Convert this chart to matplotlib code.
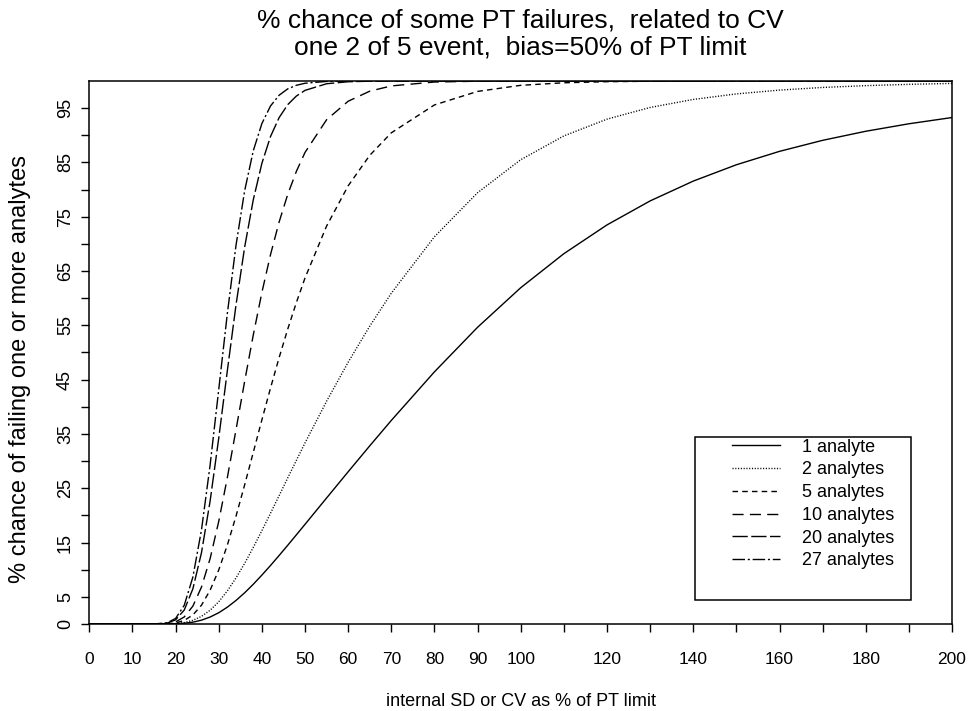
import matplotlib
matplotlib.use("Agg")
import matplotlib.pyplot as plt
from matplotlib.patches import Rectangle

plt.rcParams["font.family"] = ["Liberation Sans", "DejaVu Sans"]

# internal SD / CV as % of PT limit
cv = [0, 10, 15, 18, 20, 22, 24, 26, 28, 30, 32, 34, 36, 38, 40, 42, 44, 46, 48, 50,
      55, 60, 65, 70, 80, 90, 100, 110, 120, 130, 140, 150, 160, 170, 180, 190, 200]

# % chance of failing
fail_1 = [0, 0, 0, 0.01, 0.04, 0.13, 0.33, 0.70, 1.28, 2.07, 3.10, 4.33, 5.74, 7.31, 9.00,
          10.77, 12.62, 14.50, 16.42, 18.35, 23.20, 28.03, 32.80, 37.48, 46.43, 54.64, 61.92,
          68.19, 73.49, 77.91, 81.56, 84.57, 87.04, 89.07, 90.74, 92.12, 93.27]
fail_2 = [0, 0, 0, 0.02, 0.08, 0.26, 0.67, 1.40, 2.53, 4.10, 6.10, 8.47, 11.16, 14.09, 17.19,
          20.39, 23.64, 26.91, 30.14, 33.34, 41.02, 48.20, 54.84, 60.91, 71.31, 79.42, 85.50,
          89.88, 92.97, 95.12, 96.60, 97.62, 98.32, 98.81, 99.14, 99.38, 99.55]
fail_5 = [0, 0, 0, 0.04, 0.19, 0.65, 1.66, 3.46, 6.22, 9.95, 14.55, 19.85, 25.61, 31.59, 37.59,
          43.45, 49.06, 54.32, 59.21, 63.72, 73.28, 80.69, 86.30, 90.45, 95.59, 98.08, 99.20,
          99.67, 99.87, 99.95, 99.98, 100, 100, 100, 100, 100, 100]
fail_10 = [0, 0, 0, 0.08, 0.38, 1.29, 3.29, 6.80, 12.04, 18.90, 26.99, 35.77, 44.66, 53.20, 61.05,
           68.02, 74.04, 79.13, 83.36, 86.84, 92.86, 96.27, 98.12, 99.09, 99.81, 99.96, 99.99,
           100, 100, 100, 100, 100, 100, 100, 100, 100, 100]
fail_20 = [0, 0, 0, 0.15, 0.76, 2.56, 6.47, 13.14, 22.64, 34.23, 46.69, 58.74, 69.37, 78.10, 84.83,
           89.77, 93.26, 95.65, 97.23, 98.27, 99.49, 99.86, 99.96, 99.99, 100, 100, 100,
           100, 100, 100, 100, 100, 100, 100, 100, 100, 100]
fail_27 = [0, 0, 0, 0.20, 1.02, 3.44, 8.63, 17.32, 29.28, 43.20, 57.22, 69.73, 79.76, 87.13, 92.16,
           95.40, 97.38, 98.55, 99.21, 99.58, 99.92, 99.99, 100, 100, 100, 100, 100,
           100, 100, 100, 100, 100, 100, 100, 100, 100, 100]

labels = ["1 analyte", "2 analytes", "5 analytes", "10 analytes", "20 analytes", "27 analytes"]

x_ticks = list(range(0, 201, 10))
x_ticklabels = ["0", "10", "20", "30", "40", "50", "60", "70", "80", "90", "100",
                "", "120", "", "140", "", "160", "", "180", "", "200"]
y_ticks = list(range(0, 100, 5))
y_ticklabels = ["0", "5", "", "15", "", "25", "", "35", "", "45", "", "55", "", "65",
                "", "75", "", "85", "", "95"]

fig = plt.figure(figsize=(9.69, 7.11), dpi=100)
ax = fig.add_axes([0.0922, 0.1224, 0.8903, 0.7637])

series = [fail_1, fail_2, fail_5, fail_10, fail_20, fail_27]
dashes = [None, (0.8, 1.2), (4, 3), (8, 4.5), (11, 2.5), (9, 2, 1.5, 2)]

for ys, lab, d in zip(series, labels, dashes):
    line, = ax.plot(cv, ys, color="black", lw=1.0, label=lab)
    if d is not None:
        line.set_dashes(d)

ax.set_xlim(0, 200)
ax.set_ylim(0, 100)
ax.set_xticks(x_ticks)
ax.set_xticklabels(x_ticklabels)
ax.set_yticks(y_ticks)
ax.set_yticklabels(y_ticklabels, rotation=90, va="center")
ax.tick_params(axis="both", direction="out", length=6, width=1.0)
ax.tick_params(axis="x", pad=14, labelsize=12.5)
ax.tick_params(axis="y", pad=5, labelsize=13)
for s in ax.spines.values():
    s.set_linewidth(1.1)

ax.set_xlabel("internal SD or CV as % of PT limit", fontsize=13, labelpad=19)
ax.set_ylabel("% chance of failing one or more analytes", fontsize=17)
ax.yaxis.set_label_coords(-0.068, 0.47)
ax.set_title("% chance of some PT failures,  related to CV\none 2 of 5 event,  bias=50% of PT limit",
             fontsize=19, pad=19, linespacing=1.15)

leg = ax.legend(loc="upper left", bbox_to_anchor=(0.745, 0.3414), frameon=False,
                fontsize=13, handlelength=2.67, handletextpad=1.2, labelspacing=0.32,
                borderpad=0, borderaxespad=0)
ax.add_patch(Rectangle((0.702, 0.044), 0.251, 0.300, transform=ax.transAxes,
                       fill=False, edgecolor="black", lw=1.1, zorder=5))

fig.savefig("out.png", dpi=100)
